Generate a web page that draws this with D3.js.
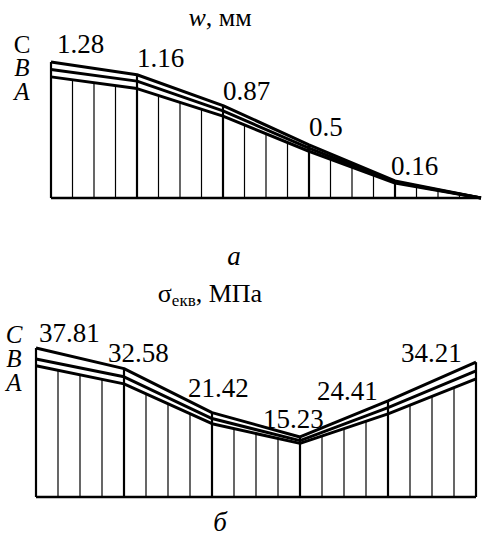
<!DOCTYPE html>
<html>
<head>
<meta charset="utf-8">
<style>
    body { margin: 0; background: #fff; }
</style>
</head>
<body>
<script src="https://cdn.jsdelivr.net/npm/d3@7/dist/d3.min.js"></script>
<script>
    // вузли (5 ділянок по 4 поділки)
    var nodes = [0, 4, 8, 12, 16, 20];

    // прогин w, мм
    var wC = [1.28, 1.16, 0.87, 0.5, 0.16, 0];
    var wB = [1.21, 1.10, 0.82, 0.47, 0.15, 0];
    var wA = [1.14, 1.03, 0.77, 0.44, 0.14, 0];
    var wLabels = ["1.28", "1.16", "0.87", "0.5", "0.16"];

    // еквівалентні напруження, МПа
    var sC = [37.81, 32.58, 21.42, 15.23, 24.41, 34.21];
    var sB = [35.0, 30.5, 19.9, 14.3, 22.7, 32.0];
    var sA = [33.3, 28.7, 18.6, 13.6, 21.1, 30.0];
    var sLabels = ["37.81", "32.58", "21.42", "15.23", "24.41", "34.21"];

    var FONT = "'Liberation Serif', 'Times New Roman', Times, serif";

    var svg = d3.select("body").append("svg")
            .attr("width", 483)
            .attr("height", 538)
            .attr("font-family", FONT);

    function drawPanel(cfg) {
        var g = svg.append("g");
        var x = d3.scaleLinear().domain([0, 20]).range([cfg.x0, cfg.x1]);
        var y = d3.scaleLinear().domain([0, cfg.vmax]).range([cfg.base, cfg.top]);

        // значення кривої в довільній поділці (лінійно між вузлами)
        function at(vals, i) {
            var k = Math.min(Math.floor(i / 4), 4);
            var t = (i - nodes[k]) / 4;
            return vals[k] + (vals[k + 1] - vals[k]) * t;
        }

        // штрихування
        d3.range(0, 21).forEach(function (i) {
            var isNode = i % 4 === 0;
            g.append("line")
                    .attr("x1", x(i)).attr("x2", x(i))
                    .attr("y1", y(0))
                    .attr("y2", y(isNode ? at(cfg.C, i) : at(cfg.A, i)))
                    .attr("stroke", "#000")
                    .attr("stroke-width", isNode ? 2.2 : 1.2);
        });

        // базова лінія
        g.append("line")
                .attr("x1", x(0)).attr("x2", x(20))
                .attr("y1", y(0)).attr("y2", y(0))
                .attr("stroke", "#000").attr("stroke-width", 2.4);

        var line = d3.line()
                .x(function (d, i) { return x(nodes[i]); })
                .y(function (d) { return y(d); });

        [cfg.A, cfg.B, cfg.C].forEach(function (vals) {
            g.append("path")
                    .attr("d", line(vals))
                    .attr("fill", "none")
                    .attr("stroke", "#000")
                    .attr("stroke-width", 3)
                    .attr("stroke-linejoin", "round");
        });

        // підписи значень
        cfg.labels.forEach(function (s, i) {
            g.append("text")
                    .attr("x", x(nodes[i]) + cfg.dx[i])
                    .attr("y", y(cfg.C[i]) + cfg.dy[i])
                    .attr("font-size", 27)
                    .attr("font-family", FONT)
                    .text(s);
        });

        // позначення кривих
        cfg.names.forEach(function (n, i) {
            g.append("text")
                    .attr("x", cfg.nameX)
                    .attr("y", cfg.nameY[i])
                    .attr("text-anchor", "middle")
                    .attr("font-size", 25)
                    .attr("font-family", FONT)
                    .attr("font-style", n.italic ? "italic" : "normal")
                    .text(n.t);
        });
        return g;
    }

    drawPanel({
        x0: 51, x1: 481, base: 198, top: 62, vmax: 1.28,
        C: wC, B: wB, A: wA, labels: wLabels,
        dx: [6, 0, 0, 0, -4], dy: [-9, -8, -6, -9, -6],
        names: [{t: "C", italic: false}, {t: "B", italic: true}, {t: "A", italic: true}],
        nameX: 22, nameY: [53, 76, 100]
    });

    drawPanel({
        x0: 36, x1: 476, base: 497, top: 348, vmax: 37.81,
        C: sC, B: sB, A: sA, labels: sLabels,
        dx: [3, -16, -24, -37, -71, -75], dy: [-6, -7, -16, -9, -1, 0],
        names: [{t: "C", italic: true}, {t: "B", italic: true}, {t: "A", italic: true}],
        nameX: 14, nameY: [343, 367, 391]
    });

    // заголовки
    var t1 = svg.append("text").attr("x", 220).attr("y", 26)
            .attr("text-anchor", "middle").attr("font-size", 26);
    t1.append("tspan").attr("font-style", "italic").text("w");
    t1.append("tspan").text(", мм");

    svg.append("text").attr("x", 234).attr("y", 265)
            .attr("text-anchor", "middle").attr("font-size", 27)
            .attr("font-style", "italic").text("а");

    var t2 = svg.append("text").attr("x", 210).attr("y", 302)
            .attr("text-anchor", "middle").attr("font-size", 26);
    t2.append("tspan").text("σ");
    t2.append("tspan").attr("font-size", 17).attr("dy", 4).text("екв");
    t2.append("tspan").attr("dy", -4).text(", МПа");

    svg.append("text").attr("x", 220).attr("y", 531)
            .attr("text-anchor", "middle").attr("font-size", 27)
            .attr("font-style", "italic").text("б");
</script>
</body>
</html>
